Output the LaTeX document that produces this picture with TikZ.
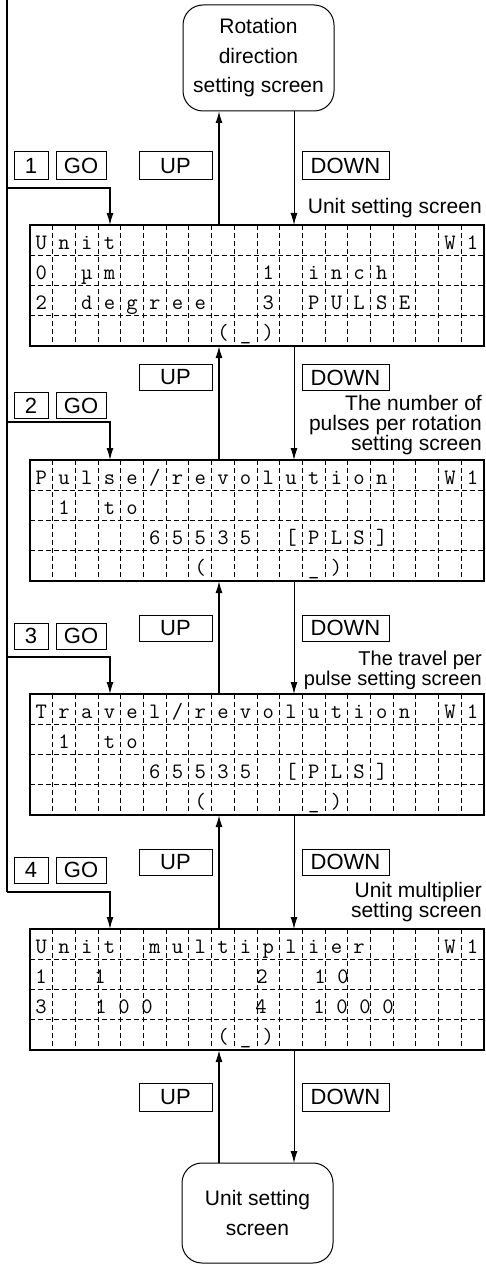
\documentclass[tikz,border=0pt]{standalone}
\usepackage{fontspec}
\setmainfont{Liberation Sans}
\usetikzlibrary{arrows.meta,calc}
\newcommand\boxfont{\fontsize{21}{29.5}\selectfont}
\newcommand\labfont{\fontsize{21}{20}\selectfont}
\newcommand\labfontn{\fontsize{20}{20}\selectfont}
\newcommand\btnfont{\fontsize{22}{22}\selectfont}
\newcommand\lcdfont{\ttfamily\fontsize{22}{22}\selectfont}
\newcommand\lcdgrid[1]{%
  \foreach \k in {1,...,19}{\draw[grid] ($(#1.north west)+({22.7*\k},0)$) -- ($(#1.south west)+({22.7*\k},0)$);}
  \foreach \k in {1,2,3}{\draw[grid] ($(#1.north west)+(0,{30.25*\k})$) -- ($(#1.north east)+(0,{30.25*\k})$);}
  \draw[line width=1.4pt] (#1.north west) rectangle (#1.south east);}
\newcommand\lcdstr[4]{%
  \foreach \ch [count=\i from #3] in {#4}{%
    \node[lcdch] (#1r#2c\i) at ($(#1.north west)+({22.7*(\i-0.5)},{30.25*(#2-1)+24})$) {\ch};}}
\begin{document}
\begin{tikzpicture}[x=1pt,y=-1pt,
  lcd/.style={minimum width=454pt,minimum height=121pt,inner sep=0pt,outer sep=0pt},
  grid/.style={line width=1pt,dash pattern=on 5pt off 3pt},
  lcdch/.style={inner sep=0pt,anchor=base,font=\lcdfont},
  rbox/.style={draw,line width=1pt,rounded corners=20pt,minimum width=151pt,inner sep=0pt,outer sep=0pt,align=center,font=\boxfont},
  btn/.style={draw,line width=1pt,inner sep=0pt,outer sep=0pt,font=\btnfont},
  lab/.style={inner sep=0pt,anchor=base east,font=\labfont},
  uparr/.style={line width=1.6pt,-{Latex[length=12pt,width=7pt]}},
  dnarr/.style={line width=1pt,-{Latex[length=12pt,width=7pt]}},
  trunk/.style={line width=1.2pt},
  goarr/.style={line width=1.2pt,-{Latex[length=12pt,width=7pt]}}]
\fill[white] (0,0) rectangle (486,1265);
\useasboundingbox (0,0) rectangle (486,1265);
\coordinate (upx) at (219,0);
\coordinate (dnx) at (294,0);
\coordinate (gox) at (110,0);
% end boxes
\node[rbox,minimum height=106pt] (top) at (258.5,58) {Rotation\\direction\\setting screen};
\node[rbox,minimum height=100pt] (bot) at (257.5,1213) {Unit setting\\screen};
% LCDs
\node[lcd] (lcd1) at (257,285.5) {};
\node[lcd] (lcd2) at (257,520.5) {};
\node[lcd] (lcd3) at (257,754.5) {};
\node[lcd] (lcd4) at (257,989.5) {};
\lcdgrid{lcd1}\lcdgrid{lcd2}\lcdgrid{lcd3}\lcdgrid{lcd4}
% LCD1
\lcdstr{lcd1}{1}{1}{U,n,i,t}
\lcdstr{lcd1}{1}{19}{W,1}
\lcdstr{lcd1}{2}{1}{0}
\lcdstr{lcd1}{2}{3}{µ,m}
\lcdstr{lcd1}{2}{11}{1}
\lcdstr{lcd1}{2}{13}{i,n,c,h}
\lcdstr{lcd1}{3}{1}{2}
\lcdstr{lcd1}{3}{3}{d,e,g,r,e,e}
\lcdstr{lcd1}{3}{11}{3}
\lcdstr{lcd1}{3}{13}{P,U,L,S,E}
\lcdstr{lcd1}{4}{9}{{(},\_,{)}}
% LCD2
\lcdstr{lcd2}{1}{1}{P,u,l,s,e,/,r,e,v,o,l,u,t,i,o,n}
\lcdstr{lcd2}{1}{19}{W,1}
\lcdstr{lcd2}{2}{2}{1}
\lcdstr{lcd2}{2}{4}{t,o}
\lcdstr{lcd2}{3}{6}{6,5,5,3,5}
\lcdstr{lcd2}{3}{12}{{[},P,L,S,{]}}
\lcdstr{lcd2}{4}{8}{{(}}
\lcdstr{lcd2}{4}{13}{\_,{)}}
% LCD3
\lcdstr{lcd3}{1}{1}{T,r,a,v,e,l,/,r,e,v,o,l,u,t,i,o,n}
\lcdstr{lcd3}{1}{19}{W,1}
\lcdstr{lcd3}{2}{2}{1}
\lcdstr{lcd3}{2}{4}{t,o}
\lcdstr{lcd3}{3}{6}{6,5,5,3,5}
\lcdstr{lcd3}{3}{12}{{[},P,L,S,{]}}
\lcdstr{lcd3}{4}{8}{{(}}
\lcdstr{lcd3}{4}{13}{\_,{)}}
% LCD4
\lcdstr{lcd4}{1}{1}{U,n,i,t}
\lcdstr{lcd4}{1}{6}{m,u,l,t,i,p,l,i,e,r}
\lcdstr{lcd4}{1}{19}{W,1}
\foreach \xx/\ch [count=\i] in {41/1,100/1,262/2,320/1,343/0}
  \node[lcdch] (lcd4r2x\i) at (\xx,983.25) {\ch};
\foreach \xx/\ch [count=\i] in {41/3,101/1,124/0,147/0,261/4,319/1,342/0,365/0,388/0}
  \node[lcdch] (lcd4r3x\i) at (\xx,1013.5) {\ch};
\lcdstr{lcd4}{4}{9}{{(},\_,{)}}
% buttons
\node[btn,minimum width=34pt,minimum height=28pt] (n1) at (31,166) {1};
\node[btn,minimum width=50pt,minimum height=28pt] (go1) at (81,166) {GO};
\node[btn,minimum width=73pt,minimum height=28pt] (up1) at (175.5,166) {UP};
\node[btn,minimum width=87pt,minimum height=28pt] (dn1) at (345.5,166) {DOWN};
\node[btn,minimum width=34pt,minimum height=26pt] (n2) at (31,405.5) {2};
\node[btn,minimum width=50pt,minimum height=26pt] (go2) at (81,405.5) {GO};
\node[btn,minimum width=73pt,minimum height=26pt] (up2) at (175.5,377.5) {UP};
\node[btn,minimum width=87pt,minimum height=26pt] (dn2) at (345.5,377.5) {DOWN};
\node[btn,minimum width=34pt,minimum height=26pt] (n3) at (31,636) {3};
\node[btn,minimum width=50pt,minimum height=26pt] (go3) at (81,636) {GO};
\node[btn,minimum width=73pt,minimum height=26pt] (up3) at (175.5,628) {UP};
\node[btn,minimum width=87pt,minimum height=26pt] (dn3) at (345.5,628) {DOWN};
\node[btn,minimum width=34pt,minimum height=26pt] (n4) at (31,870) {4};
\node[btn,minimum width=50pt,minimum height=26pt] (go4) at (81,870) {GO};
\node[btn,minimum width=73pt,minimum height=26pt] (up4) at (175.5,862) {UP};
\node[btn,minimum width=87pt,minimum height=26pt] (dn4) at (345.5,862) {DOWN};
\node[btn,minimum width=73pt,minimum height=28pt] (up5) at (175.5,1097) {UP};
\node[btn,minimum width=87pt,minimum height=28pt] (dn5) at (345.5,1097) {DOWN};
% labels
\node[lab] (lab1) at (482,214) {Unit setting screen};
\node[lab] (lab2a) at (482,410) {The number of};
\node[lab] (lab2b) at (482,430) {pulses per rotation};
\node[lab] (lab2c) at (482,450) {setting screen};
\node[lab,font=\labfontn] (lab3a) at (482,665) {The travel per};
\node[lab,font=\labfontn] (lab3b) at (482,685) {pulse setting screen};
\node[lab] (lab4a) at (482,897) {Unit multiplier};
\node[lab] (lab4b) at (482,917) {setting screen};
% up / down connectors
\draw[uparr] (lcd1.north -| upx) -- (top.south -| upx);
\draw[dnarr] (top.south -| dnx) -- (lcd1.north -| dnx);
\draw[uparr] (lcd2.north -| upx) -- (lcd1.south -| upx);
\draw[dnarr] (lcd1.south -| dnx) -- (lcd2.north -| dnx);
\draw[uparr] (lcd3.north -| upx) -- (lcd2.south -| upx);
\draw[dnarr] (lcd2.south -| dnx) -- (lcd3.north -| dnx);
\draw[uparr] (lcd4.north -| upx) -- (lcd3.south -| upx);
\draw[dnarr] (lcd3.south -| dnx) -- (lcd4.north -| dnx);
\draw[uparr] (bot.north -| upx) -- (lcd4.south -| upx);
\draw[dnarr] (lcd4.south -| dnx) -- (bot.north -| dnx);
% GO trunk
\coordinate (lstart) at (7,0);
\coordinate (b1) at (7,188);
\coordinate (b2) at (7,422);
\coordinate (b3) at (7,657);
\coordinate (b4) at (7,892);
\draw[trunk] (lstart) -- (b4);
\draw[goarr] (b1) -| (lcd1.north -| gox);
\draw[goarr] (b2) -| (lcd2.north -| gox);
\draw[goarr] (b3) -| (lcd3.north -| gox);
\draw[goarr] (b4) -| (lcd4.north -| gox);
\end{tikzpicture}
\end{document}
